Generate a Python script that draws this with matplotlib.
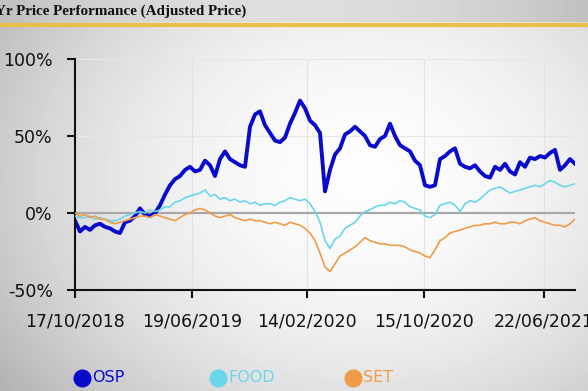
import numpy as np
import pandas as pd
import matplotlib
matplotlib.use("Agg")
import matplotlib.pyplot as plt
from matplotlib.lines import Line2D

# --- data (percent change vs 17/10/2018) ---
osp = [-5, -12, -9, -11, -8, -7, -9, -10, -12, -13,
       -6, -5, -2, 3, -1, -2, 0, 5, 12, 18,
       22, 24, 28, 30, 27, 28, 34, 31, 24, 35,
       40, 35, 33, 31, 30, 56, 64, 66, 57, 52,
       47, 46, 49, 58, 65, 73, 68, 60, 57, 52,
       14, 28, 38, 42, 51, 53, 56, 53, 50, 44,
       43, 48, 50, 58, 50, 44, 42, 40, 34, 31,
       18, 17, 18, 35, 37, 40, 42, 32, 30, 29,
       31, 27, 24, 23, 30, 28, 32, 27, 25, 33,
       30, 36, 35, 37, 36, 39, 41, 28, 31, 35, 32]
food = [-2, -3, -3, -2, -4, -3, -4, -5, -5, -4,
        -2, -1, 0, 1, 0, 2, 1, 2, 4, 4,
        7, 8, 10, 11, 12, 13, 15, 11, 12, 9,
        10, 8, 9, 7, 8, 6, 7, 5, 6, 6,
        5, 7, 8, 10, 9, 8, 9, 6, 1, -6,
        -18, -23, -17, -15, -10, -8, -6, -2, 1, 2,
        4, 5, 5, 7, 6, 8, 7, 4, 3, 2,
        -2, -3, -1, 5, 6, 7, 5, 1, 6, 8,
        7, 9, 12, 15, 16, 17, 15, 13, 14, 15,
        16, 17, 18, 17, 19, 21, 20, 18, 17, 18, 19]
set_index = [0, -2, -1, -3, -2, -4, -4, -6, -7, -6,
             -5, -4, -3, -2, -2, -3, -1, -2, -3, -4,
             -5, -3, -1, 0, 2, 3, 2, 0, -2, -3,
             -2, -1, -3, -4, -5, -4, -5, -5, -6, -7,
             -6, -7, -8, -6, -7, -8, -10, -13, -18, -26,
             -35, -38, -33, -28, -26, -24, -22, -19, -16, -18,
             -19, -20, -20, -21, -21, -21, -22, -24, -25, -26,
             -28, -29, -24, -18, -16, -13, -12, -11, -10, -9,
             -8, -8, -7, -7, -6, -7, -7, -6, -6, -7,
             -5, -4, -3, -5, -6, -7, -8, -8, -9, -7, -4]
series_names = ["OSP", "FOOD", "SET"]
series_colors = ["#0A0ACD", "#6AD6EE", "#EF9B48"]

dates = pd.date_range("2018-10-17", "2021-08-26", periods=len(osp))
tick_dates = pd.to_datetime(["2018-10-17", "2019-06-19", "2020-02-14",
                             "2020-10-15", "2021-06-22"])
tick_labels = ["17/10/2018", "19/06/2019", "14/02/2020", "15/10/2020", "22/06/2021"]
y_ticks = [-50, 0, 50, 100]
y_labels = ["-50%", "0%", "50%", "100%"]

W, H = 588, 391
fig = plt.figure(figsize=(W / 100, H / 100), dpi=100)

# background: soft grey vignette + title bar
bg = fig.add_axes([0, 0, 1, 1], zorder=-10)
yy, xx = np.mgrid[0:H, 0:W]
r = ((xx - 0.62 * W) / (0.75 * W)) ** 2 + ((yy - 0.45 * H) / (0.9 * H)) ** 2
img = np.clip(0.99 - 0.28 * r, 0, 1)
img[:22, :] = np.clip(0.87 - 0.12 * ((xx[:22, :] - 0.5 * W) / (0.5 * W)) ** 2, 0, 1)
bg.imshow(img, cmap="gray", vmin=0, vmax=1, extent=[0, 1, 0, 1], aspect="auto")
bg.set_xlim(0, 1)
bg.set_ylim(0, 1)
bg.axhline(1 - 25 / H, color="#E7BF4B", lw=3)
bg.axis("off")

fig.text(-5 / W, 1 - 11 / H, "Yr Price Performance (Adjusted Price)",
         fontfamily="Liberation Serif", fontweight="bold", fontsize=10.9,
         color="#111111", va="center", ha="left")

# main chart
ax = fig.add_axes([75 / W, 1 - 290 / H, 500 / W, 231 / H])
ax.patch.set_alpha(0)
ax.axhline(0, color="#a8a8a8", lw=1.6, zorder=1)
for d in tick_dates[1:]:
    ax.axvline(d, color="#e2e2e2", lw=0.8, zorder=0)
for v in [50, 100]:
    ax.axhline(v, color="#e6e6e6", lw=0.8, zorder=0)

ax.plot(dates, osp, color=series_colors[0], lw=2.8, zorder=2)
ax.plot(dates, food, color=series_colors[1], lw=1.2, zorder=3)
ax.plot(dates, set_index, color=series_colors[2], lw=1.2, zorder=4)

ax.set_xlim(dates[0], dates[-1])
ax.set_ylim(-50, 100)
ax.set_xticks(tick_dates)
ax.set_xticklabels(tick_labels)
ax.set_yticks(y_ticks)
ax.set_yticklabels(y_labels)
ax.tick_params(axis="both", labelsize=12.5, colors="#111111", width=1.5)
ax.tick_params(axis="y", length=6, pad=10)
ax.tick_params(axis="x", length=5.5, pad=11)
for s in ["top", "right"]:
    ax.spines[s].set_visible(False)
for s in ["left", "bottom"]:
    ax.spines[s].set_linewidth(1.5)
    ax.spines[s].set_color("#111111")

# legend row at the bottom
for name, col, xc in zip(series_names, series_colors, [82, 218, 353]):
    fig.add_artist(Line2D([xc / W], [1 - 378 / H], transform=fig.transFigure,
                          marker="o", markersize=12, color=col, linestyle=""))
    fig.text((xc + 10) / W, 1 - 378 / H, name, color=col, fontsize=11.5,
             va="center", ha="left")

fig.savefig("out.png", dpi=100)
